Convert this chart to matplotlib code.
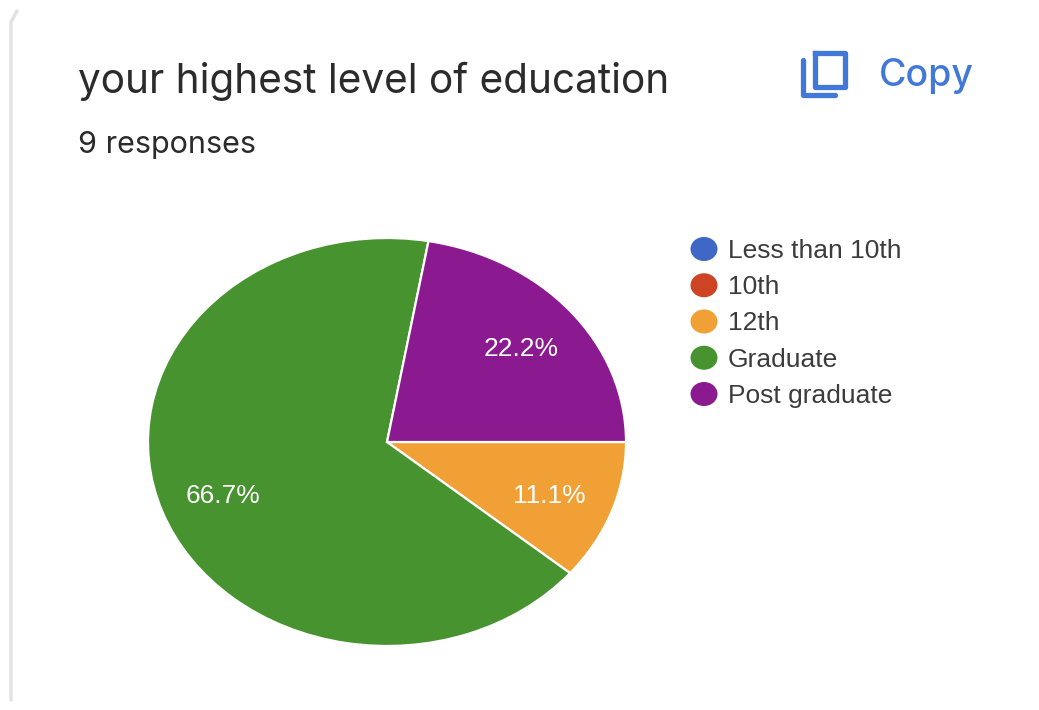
import matplotlib
matplotlib.use('Agg')
import matplotlib.pyplot as plt
from matplotlib.patches import Ellipse

W, H = 1039, 710

# Chart data
categories = ['Less than 10th', '10th', '12th', 'Graduate', 'Post graduate']
legend_colors = ['#3f67c6', '#cc4423', '#f0a035', '#47932f', '#8b1a90']
slice_names = ['12th', 'Graduate', 'Post graduate']
slice_counts = [1, 6, 2]
slice_labels = ['11.1%', '66.7%', '22.2%']
title = 'your highest level of education'
subtitle = '9 responses'

BLUE = '#4279d8'
TEXT = '#2b2b2b'

fig = plt.figure(figsize=(W / 100, H / 100), dpi=100, facecolor='white')

# Overlay in pixel coordinates for header, card border and legend
page = fig.add_axes([0, 0, 1, 1])
page.set_xlim(0, W)
page.set_ylim(H, 0)
page.axis('off')

page.plot([11, 11, 17], [700, 22, 11], color='#e2e2e2', lw=2.4, solid_capstyle='round')

page.text(78, 81, title, family='Inter', fontsize=29.2, color=TEXT, va='center', ha='left')
page.text(78, 145, subtitle, family='Inter', fontsize=22, color=TEXT, va='center', ha='left')

# Copy button
page.plot([815, 845, 845, 815, 815], [53, 53, 87, 87, 53], color=BLUE, lw=3.8, solid_joinstyle='round')
page.plot([803, 803, 835], [60, 95, 95], color=BLUE, lw=3.8, solid_capstyle='round', solid_joinstyle='round')
page.text(879, 76, 'Copy', family='Inter', fontsize=27, color=BLUE, va='center', ha='left', fontweight='medium')

# Legend
for i, (name, color) in enumerate(zip(categories, legend_colors)):
    y = 249 + i * 36.25
    page.add_patch(Ellipse((704, y), 27, 24, facecolor=color, edgecolor='none'))
    page.text(728, y + 2, name, family='Liberation Sans', fontsize=19, color='#3c3c3c', va='center', ha='left')

# Pie stretched horizontally: axes box is wider than tall
left, right, top, bottom = 148, 626, 238, 646
ax = fig.add_axes([left / W, 1 - bottom / H, (right - left) / W, (bottom - top) / H])
colors = [legend_colors[categories.index(n)] for n in slice_names]
wedges, _ = ax.pie(slice_counts, colors=colors, startangle=0, counterclock=False,
                   wedgeprops={'edgecolor': 'white', 'linewidth': 1.6})
ax.set_aspect('auto')
ax.set_xlim(-1, 1)
ax.set_ylim(-1, 1)
ax.axis('off')
for w in wedges:
    w.set_clip_on(False)

label_pos = [(549, 496), (223, 496), (521, 349)]
for (x, y), label in zip(label_pos, slice_labels):
    page.text(x, y, label, family='Liberation Sans', fontsize=19, color='white',
              va='center', ha='center', zorder=10)
# labels sit above the pie axes
page.set_zorder(ax.get_zorder() + 1)
page.patch.set_visible(False)

fig.savefig('out.png', dpi=100, facecolor='white')
